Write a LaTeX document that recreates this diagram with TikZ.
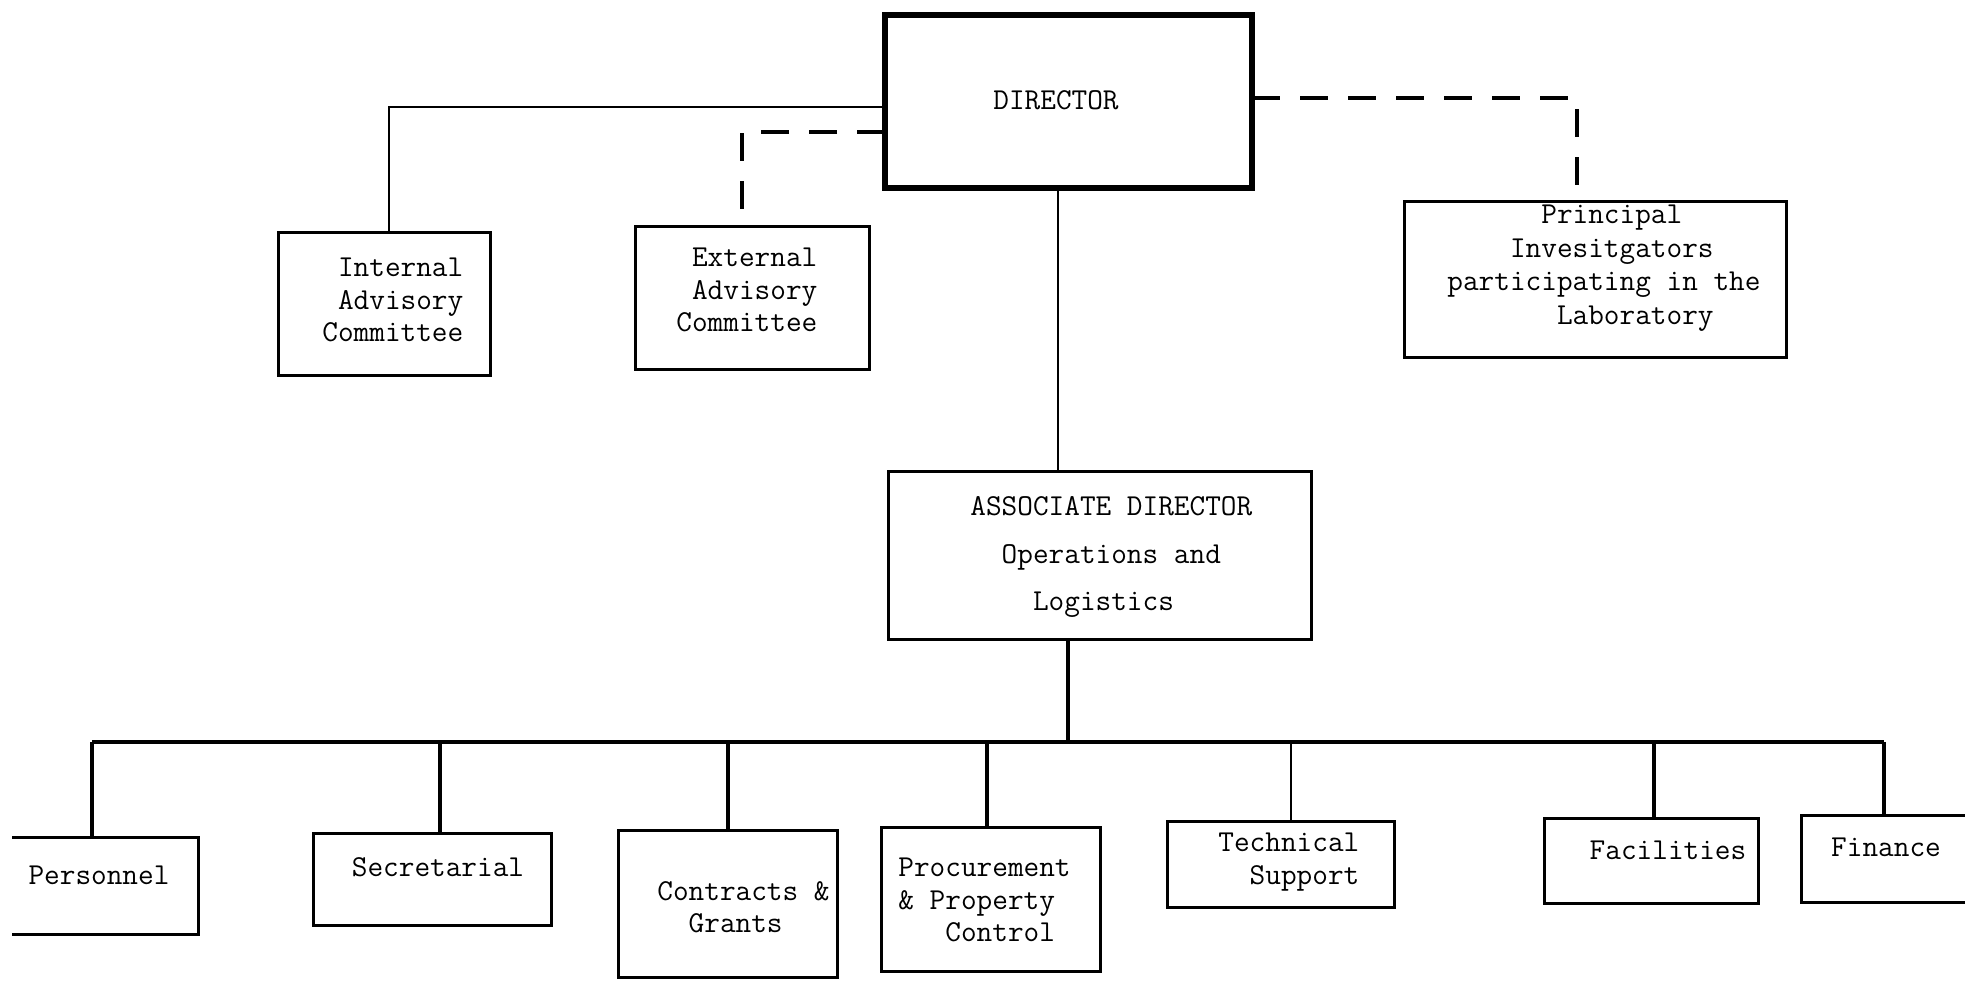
\documentclass[tikz,border=0pt]{standalone}
\usepackage{fontspec}
\newcommand{\tw}{\ttfamily\addfontfeature{FakeBold=2.6}}
\newcommand{\indentby}[1]{\phantom{#1}}
\begin{document}
\begin{tikzpicture}[x=0.5pt, y=-0.5pt,
  box/.style={draw, line width=1.5pt, inner sep=0pt, outer sep=0pt},
  openbox/.style={inner sep=0pt, outer sep=0pt},
  txt/.style={font={\tw\fontsize{15.2pt}{16.2pt}\selectfont}, inner sep=0pt, align=left},
  link/.style={line width=1pt},
  busline/.style={line width=2pt},
  dotted link/.style={line width=2pt, dash pattern=on 14pt off 10pt}]
\useasboundingbox (0,0) rectangle (1965,980);

% top level
\node[box, line width=2.6pt, minimum width=183.5pt, minimum height=86.5pt] (dir) at (1068.5,101.5) {};
\node[txt] (dirt) at (1056,100) {DIRECTOR};

\node[box, minimum width=106pt, minimum height=71.5pt] (int) at (384,303.5) {};
\node[txt, anchor=west] (intt) at (322,300) {\indentby{x}Internal\\\indentby{x}Advisory\\Committee};

\node[box, minimum width=117pt, minimum height=71.5pt] (ext) at (752,297.5) {};
\node[txt, anchor=west] (extt) at (676,290) {\indentby{x}External\\\indentby{x}Advisory\\Committee};

\node[box, minimum width=191pt, minimum height=78pt] (pi) at (1595,279) {};
\node[txt, anchor=west, font={\tw\fontsize{15.2pt}{16.8pt}\selectfont}] (pit) at (1447,268)
  {\indentby{xxxxxx}Principal\\\indentby{xxxx}Invesitgators\\participating in the\\\indentby{xxxxxxx}Laboratory};

% associate director
\node[box, minimum width=211.5pt, minimum height=84pt] (asd) at (1099.5,555) {};
\node[txt, anchor=west, font={\tw\fontsize{15.2pt}{23.7pt}\selectfont}] (asdt) at (970,557)
  {ASSOCIATE DIRECTOR\\\indentby{xx}Operations and\\\indentby{xxxx}Logistics};

% units
\node[openbox, minimum width=93pt, minimum height=48.5pt] (pers) at (105,885.5) {};
\draw[line width=1.5pt] (pers.north west) -- (pers.north east) -- (pers.south east) -- (pers.south west);
\node[txt] (perst) at (99,875) {Personnel};

\node[box, minimum width=119pt, minimum height=46pt] (sec) at (432,879) {};
\node[txt] (sect) at (438,867) {Secretarial};

\node[box, minimum width=109.5pt, minimum height=73.5pt] (con) at (727.5,903.5) {};
\node[txt, anchor=west] (cont) at (657,907) {Contracts \&\\\indentby{xx}Grants};

\node[box, minimum width=109.5pt, minimum height=72pt] (proc) at (990.5,899) {};
\node[txt, anchor=west] (proct) at (898,900) {Procurement\\\& Property\\\indentby{xxx}Control};

\node[box, minimum width=113.5pt, minimum height=43pt] (tech) at (1280.5,864) {};
\node[txt, anchor=west] (techt) at (1218,862) {Technical\\\indentby{xx}Support};

\node[box, minimum width=107pt, minimum height=42.5pt] (fac) at (1651,860.5) {};
\node[txt] (fact) at (1668,850) {Facilities};

\node[openbox, minimum width=82.5pt, minimum height=43.5pt] (fin) at (1883.5,858.5) {};
\draw[line width=1.5pt] (fin.north east) -- (fin.north west) -- (fin.south west) -- (fin.south east);
\node[txt] (fint) at (1886,847) {Finance};

% connectors from the director
\draw[link] ([yshift=-2.75pt]dir.west) -| ([xshift=2.5pt]int.north);
\draw[dotted link] ([yshift=-15.25pt]dir.west) -| ([xshift=-5pt]ext.north);
\draw[dotted link] ([yshift=1.75pt]dir.east) -| ([xshift=-9pt]pi.north);
\draw[link] ([xshift=-5.25pt]dir.south) -- ([xshift=-5.25pt]dir.south |- asd.north);

% distribution bus
\coordinate (bus) at (1068,742);
\draw[busline] ([xshift=-15.75pt]asd.south) -- ([xshift=-15.75pt]asd.south |- bus);
\draw[busline] ([xshift=-6.5pt]pers.north |- bus) -- (fin.north |- bus);
\draw[busline] ([xshift=-6.5pt]pers.north) -- ([xshift=-6.5pt]pers.north |- bus);
\draw[busline] ([xshift=4pt]sec.north) -- ([xshift=4pt]sec.north |- bus);
\draw[busline] (con.north) -- (con.north |- bus);
\draw[busline] ([xshift=-1.75pt]proc.north) -- ([xshift=-1.75pt]proc.north |- bus);
\draw[link] ([xshift=5.25pt]tech.north) -- ([xshift=5.25pt]tech.north |- bus);
\draw[busline] ([xshift=1.5pt]fac.north) -- ([xshift=1.5pt]fac.north |- bus);
\draw[busline] (fin.north) -- (fin.north |- bus);
\end{tikzpicture}
\end{document}
